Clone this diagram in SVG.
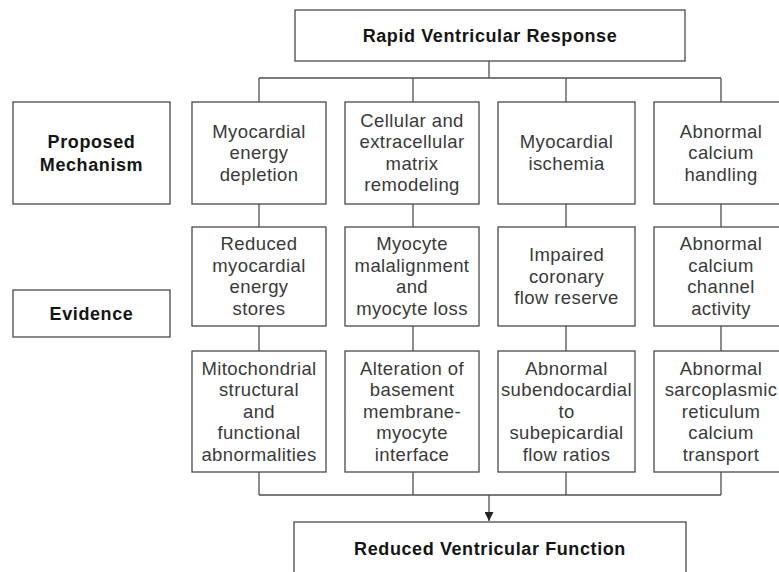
<svg xmlns="http://www.w3.org/2000/svg" width="779" height="572" viewBox="0 0 779 572">
<defs>
<style>
.box{fill:#fff;stroke:#4a4a4a;stroke-width:1.3}
.t{font-family:"Liberation Sans",Arial,sans-serif;font-size:18.5px;fill:#3a3a3a;text-anchor:middle;letter-spacing:0.4px}
.b{font-family:"Liberation Sans",Arial,sans-serif;font-size:18px;font-weight:bold;fill:#151515;text-anchor:middle;letter-spacing:0.6px}
.c{fill:none;stroke:#505050;stroke-width:1.3}
</style>
<marker id="arr" viewBox="0 0 10 10" refX="10" refY="5" markerWidth="9" markerHeight="9" markerUnits="userSpaceOnUse" orient="auto">
<path d="M0,0 L10,5 L0,10 z" fill="#222"/>
</marker>
</defs>
<rect width="779" height="572" fill="#fff"/>

<g id="connectors">
<path class="c" d="M489,61 V78 M259,78 H721 M259,78 V102 M413,78 V102 M566,78 V102 M721,78 V102"/>
<path class="c" d="M259,204 V227 M413,204 V227 M566,204 V227 M721,204 V227"/>
<path class="c" d="M259,326 V351 M413,326 V351 M566,326 V351 M721,326 V351"/>
<path class="c" d="M259,472 V495 M413,472 V495 M566,472 V495 M721,472 V495 M259,495 H721"/>
<path class="c" d="M489,495 V521" marker-end="url(#arr)"/>
</g>

<g id="top">
<rect class="box" x="295" y="10" width="390" height="51"/>
<text class="b" x="490" y="42">Rapid Ventricular Response</text>
</g>

<g id="label-mechanism">
<rect class="box" x="13" y="102" width="157" height="102"/>
<text class="b" x="91.5" y="148">Proposed</text>
<text class="b" x="91.5" y="171">Mechanism</text>
</g>

<g id="label-evidence">
<rect class="box" x="13" y="290" width="157" height="47"/>
<text class="b" x="91.5" y="320">Evidence</text>
</g>

<g id="m1">
<rect class="box" x="192" y="102" width="134" height="102"/>
<text class="t" x="259" y="137.5">Myocardial</text>
<text class="t" x="259" y="159">energy</text>
<text class="t" x="259" y="180.5">depletion</text>
</g>
<g id="m2">
<rect class="box" x="345" y="102" width="134" height="102"/>
<text class="t" x="412" y="126.75">Cellular and</text>
<text class="t" x="412" y="148.25">extracellular</text>
<text class="t" x="412" y="169.75">matrix</text>
<text class="t" x="412" y="191.25">remodeling</text>
</g>
<g id="m3">
<rect class="box" x="498" y="102" width="137" height="102"/>
<text class="t" x="566.5" y="148.25">Myocardial</text>
<text class="t" x="566.5" y="169.75">ischemia</text>
</g>
<g id="m4">
<rect class="box" x="654" y="102" width="134" height="102"/>
<text class="t" x="721" y="137.5">Abnormal</text>
<text class="t" x="721" y="159">calcium</text>
<text class="t" x="721" y="180.5">handling</text>
</g>

<g id="e1">
<rect class="box" x="192" y="227" width="134" height="99"/>
<text class="t" x="259" y="250.25">Reduced</text>
<text class="t" x="259" y="271.75">myocardial</text>
<text class="t" x="259" y="293.25">energy</text>
<text class="t" x="259" y="314.75">stores</text>
</g>
<g id="e2">
<rect class="box" x="345" y="227" width="134" height="99"/>
<text class="t" x="412" y="250.25">Myocyte</text>
<text class="t" x="412" y="271.75">malalignment</text>
<text class="t" x="412" y="293.25">and</text>
<text class="t" x="412" y="314.75">myocyte loss</text>
</g>
<g id="e3">
<rect class="box" x="498" y="227" width="137" height="99"/>
<text class="t" x="566.5" y="261">Impaired</text>
<text class="t" x="566.5" y="282.5">coronary</text>
<text class="t" x="566.5" y="304">flow reserve</text>
</g>
<g id="e4">
<rect class="box" x="654" y="227" width="134" height="99"/>
<text class="t" x="721" y="250.25">Abnormal</text>
<text class="t" x="721" y="271.75">calcium</text>
<text class="t" x="721" y="293.25">channel</text>
<text class="t" x="721" y="314.75">activity</text>
</g>

<g id="f1">
<rect class="box" x="192" y="351" width="134" height="121"/>
<text class="t" x="259" y="374.5">Mitochondrial</text>
<text class="t" x="259" y="396">structural</text>
<text class="t" x="259" y="417.5">and</text>
<text class="t" x="259" y="439">functional</text>
<text class="t" x="259" y="460.5">abnormalities</text>
</g>
<g id="f2">
<rect class="box" x="345" y="351" width="134" height="121"/>
<text class="t" x="412" y="374.5">Alteration of</text>
<text class="t" x="412" y="396">basement</text>
<text class="t" x="412" y="417.5">membrane-</text>
<text class="t" x="412" y="439">myocyte</text>
<text class="t" x="412" y="460.5">interface</text>
</g>
<g id="f3">
<rect class="box" x="498" y="351" width="137" height="121"/>
<text class="t" x="566.5" y="374.5">Abnormal</text>
<text class="t" x="566.5" y="396">subendocardial</text>
<text class="t" x="566.5" y="417.5">to</text>
<text class="t" x="566.5" y="439">subepicardial</text>
<text class="t" x="566.5" y="460.5">flow ratios</text>
</g>
<g id="f4">
<rect class="box" x="654" y="351" width="134" height="121"/>
<text class="t" x="721" y="374.5">Abnormal</text>
<text class="t" x="721" y="396">sarcoplasmic</text>
<text class="t" x="721" y="417.5">reticulum</text>
<text class="t" x="721" y="439">calcium</text>
<text class="t" x="721" y="460.5">transport</text>
</g>

<g id="bottom">
<rect class="box" x="294" y="522" width="392" height="60"/>
<text class="b" x="490" y="555">Reduced Ventricular Function</text>
</g>
</svg>
